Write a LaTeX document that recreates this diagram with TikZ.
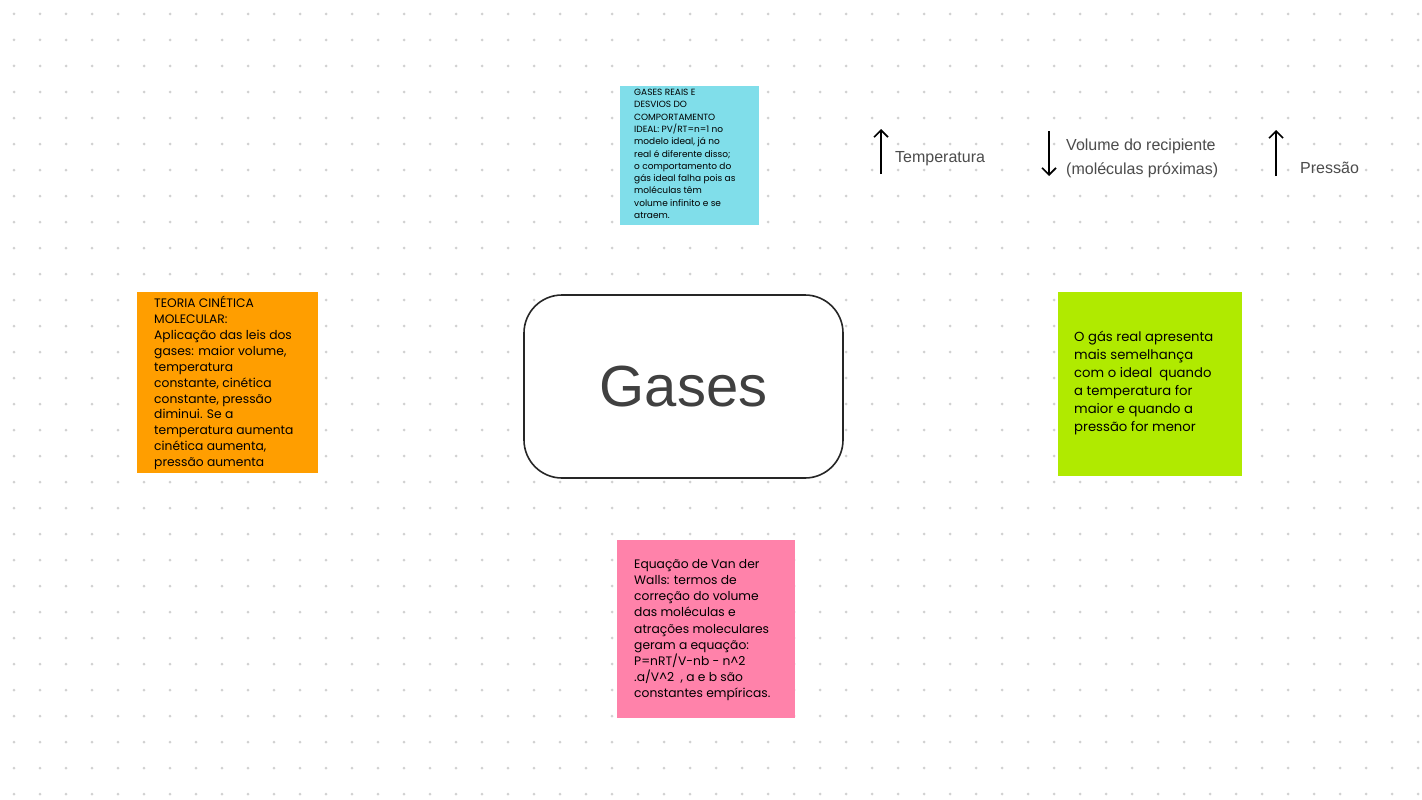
\documentclass[tikz,border=0pt]{standalone}
\usepackage{fontspec}
\setmainfont{Liberation Sans}
\newfontfamily\notefont{Poppins}
\usetikzlibrary{arrows.meta}
\definecolor{ncyan}{RGB}{128,222,234}
\definecolor{norange}{RGB}{255,158,0}
\definecolor{ngreen}{RGB}{176,234,0}
\definecolor{npink}{RGB}{255,130,170}
\begin{document}
\begin{tikzpicture}[x=1pt,y=-1pt,
  note/.style={anchor=north west,inner sep=0pt,align=left,font=\notefont},
  lbl/.style={anchor=west,inner sep=0pt,align=left,text=black!70,font=\fontsize{16}{24}\selectfont},
  arr/.style={-{Straight Barb[length=7pt,width=14pt]},line width=1.6pt}]
\useasboundingbox (0,0) rectangle (1422,800);
\fill[white] (0,0) rectangle (1422,800);
\foreach \i in {0,...,54}{\foreach \j in {0,...,30}{\fill[black!18] (14+26*\i,14+26*\j) circle (1.5);}}
% notes
\fill[ncyan] (620,86) rectangle (759,225);
\node[note,font=\notefont\fontsize{9}{12.3}\selectfont] (n1) at (634,89) {GASES REAIS E\\DESVIOS DO\\COMPORTAMENTO\\IDEAL: PV/RT=n=1 no\\modelo ideal, já no\\real é diferente disso;\\o comportamento do\\gás ideal falha pois as\\moléculas têm\\volume infinito e se\\atraem.};
\fill[norange] (137,292) rectangle (318,473);
\node[note,font=\notefont\fontsize{12.3}{15.9}\selectfont] (n2) at (154,296) {TEORIA CINÉTICA\\MOLECULAR:\\Aplicação das leis dos\\gases: maior volume,\\temperatura\\constante, cinética\\constante, pressão\\diminui. Se a\\temperatura aumenta\\cinética aumenta,\\pressão aumenta};
\fill[ngreen] (1058,292) rectangle (1242,476);
\node[note,font=\notefont\fontsize{13.2}{18}\selectfont] (n3) at (1074,331) {O gás real apresenta\\mais semelhança\\com o ideal\ \ quando\\a temperatura for\\maior e quando a\\pressão for menor};
\fill[npink] (617,540) rectangle (795,718);
\node[note,font=\notefont\fontsize{12.3}{16.2}\selectfont] (n4) at (634,559) {Equação de Van der\\Walls: termos de\\correção do volume\\das moléculas e\\atrações moleculares\\geram a equação:\\P=nRT/V-nb - n\^{}2\\.a/V\^{}2\ \ , a e b são\\constantes empíricas.};
% central
\node[draw=black!85,fill=white,line width=1.6pt,rounded corners=38pt,minimum width=319pt,minimum height=183pt,text=black!75,font=\fontsize{58}{60}\selectfont] (g) at (683.5,386.5) {Gases};
% arrows and labels
\coordinate (a1s) at (881,174); \coordinate (a1e) at (881,129);
\draw[arr] (a1s) -- (a1e);
\node[lbl] (t1) at (895,159) {Temperatura};
\coordinate (a2s) at (1049,131); \coordinate (a2e) at (1049,176);
\draw[arr] (a2s) -- (a2e);
\node[lbl] (t2) at (1066,158) {Volume do recipiente\\(moléculas próximas)};
\coordinate (a3s) at (1276,176); \coordinate (a3e) at (1276,130);
\draw[arr] (a3s) -- (a3e);
\node[lbl] (t3) at (1300,168) {Pressão};
\end{tikzpicture}
\end{document}
